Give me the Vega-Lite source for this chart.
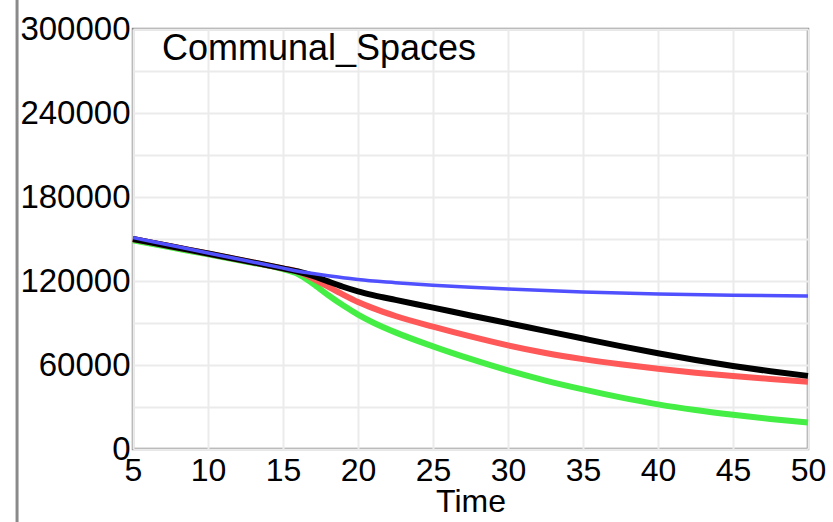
{
  "$schema": "https://vega.github.io/schema/vega-lite/v6.json",
  "width": 675,
  "height": 420,
  "autosize": {"type": "none"},
  "padding": {"left": 133, "top": 29, "right": 25, "bottom": 73},
  "background": "white",
  "config": {
    "view": {"stroke": "#8a8a8a", "strokeWidth": 2.5},
    "font": "Liberation Sans"
  },
  "datasets": {
    "runs": [
      {"series": "green", "t": 5, "v": 149000},
      {"series": "green", "t": 7.5, "v": 144000},
      {"series": "green", "t": 10, "v": 139000},
      {"series": "green", "t": 12.5, "v": 133900},
      {"series": "green", "t": 15, "v": 128500},
      {"series": "green", "t": 16, "v": 125000},
      {"series": "green", "t": 17, "v": 118000},
      {"series": "green", "t": 18, "v": 110000},
      {"series": "green", "t": 19, "v": 102600},
      {"series": "green", "t": 20, "v": 96000},
      {"series": "green", "t": 21, "v": 90400},
      {"series": "green", "t": 22.5, "v": 83300},
      {"series": "green", "t": 25, "v": 73300},
      {"series": "green", "t": 27.5, "v": 64300},
      {"series": "green", "t": 30, "v": 56100},
      {"series": "green", "t": 32.5, "v": 48900},
      {"series": "green", "t": 35, "v": 42600},
      {"series": "green", "t": 37.5, "v": 36900},
      {"series": "green", "t": 40, "v": 31900},
      {"series": "green", "t": 42.5, "v": 27800},
      {"series": "green", "t": 45, "v": 24400},
      {"series": "green", "t": 47.5, "v": 21400},
      {"series": "green", "t": 50, "v": 18900},

      {"series": "red", "t": 5, "v": 150000},
      {"series": "red", "t": 7.5, "v": 144800},
      {"series": "red", "t": 10, "v": 139600},
      {"series": "red", "t": 12.5, "v": 134400},
      {"series": "red", "t": 15, "v": 129000},
      {"series": "red", "t": 16, "v": 126700},
      {"series": "red", "t": 17, "v": 121800},
      {"series": "red", "t": 18, "v": 116000},
      {"series": "red", "t": 19, "v": 110300},
      {"series": "red", "t": 20, "v": 105000},
      {"series": "red", "t": 21, "v": 100600},
      {"series": "red", "t": 22.5, "v": 95000},
      {"series": "red", "t": 25, "v": 87400},
      {"series": "red", "t": 27.5, "v": 80400},
      {"series": "red", "t": 30, "v": 74000},
      {"series": "red", "t": 32.5, "v": 68600},
      {"series": "red", "t": 35, "v": 64200},
      {"series": "red", "t": 37.5, "v": 60500},
      {"series": "red", "t": 40, "v": 57300},
      {"series": "red", "t": 42.5, "v": 54500},
      {"series": "red", "t": 45, "v": 52100},
      {"series": "red", "t": 47.5, "v": 50000},
      {"series": "red", "t": 50, "v": 48100},

      {"series": "black", "t": 5, "v": 150000},
      {"series": "black", "t": 7.5, "v": 144800},
      {"series": "black", "t": 10, "v": 139600},
      {"series": "black", "t": 12.5, "v": 134400},
      {"series": "black", "t": 15, "v": 129000},
      {"series": "black", "t": 16, "v": 126800},
      {"series": "black", "t": 17, "v": 123700},
      {"series": "black", "t": 18, "v": 119700},
      {"series": "black", "t": 19, "v": 115900},
      {"series": "black", "t": 20, "v": 112600},
      {"series": "black", "t": 21, "v": 109900},
      {"series": "black", "t": 22.5, "v": 106500},
      {"series": "black", "t": 25, "v": 101000},
      {"series": "black", "t": 27.5, "v": 95400},
      {"series": "black", "t": 30, "v": 89900},
      {"series": "black", "t": 32.5, "v": 84400},
      {"series": "black", "t": 35, "v": 78900},
      {"series": "black", "t": 37.5, "v": 73500},
      {"series": "black", "t": 40, "v": 68400},
      {"series": "black", "t": 42.5, "v": 63600},
      {"series": "black", "t": 45, "v": 59300},
      {"series": "black", "t": 47.5, "v": 55500},
      {"series": "black", "t": 50, "v": 52200},

      {"series": "blue", "t": 5, "v": 151000},
      {"series": "blue", "t": 7.5, "v": 145500},
      {"series": "blue", "t": 10, "v": 140000},
      {"series": "blue", "t": 12.5, "v": 134600},
      {"series": "blue", "t": 15, "v": 129200},
      {"series": "blue", "t": 16, "v": 127000},
      {"series": "blue", "t": 17, "v": 125400},
      {"series": "blue", "t": 18, "v": 123800},
      {"series": "blue", "t": 19, "v": 122400},
      {"series": "blue", "t": 20, "v": 121000},
      {"series": "blue", "t": 22.5, "v": 118800},
      {"series": "blue", "t": 25, "v": 117000},
      {"series": "blue", "t": 27.5, "v": 115500},
      {"series": "blue", "t": 30, "v": 114200},
      {"series": "blue", "t": 35, "v": 112200},
      {"series": "blue", "t": 40, "v": 110700},
      {"series": "blue", "t": 45, "v": 109800},
      {"series": "blue", "t": 50, "v": 109300}
    ],
    "caption": [{"label": "Communal_Spaces"}],
    "frame": [{"k": 1}]
  },
  "layer": [
    {
      "data": {"name": "runs"},
      "transform": [{"filter": "datum.series == 'green'"}],
      "mark": {"type": "line", "color": "#44ee44", "strokeWidth": 6, "interpolate": "monotone"},
      "encoding": {
        "x": {
          "field": "t",
          "type": "quantitative",
          "scale": {"domain": [5, 50], "nice": false, "zero": false},
          "axis": {
            "title": "Time",
            "values": [5, 10, 15, 20, 25, 30, 35, 40, 45, 50],
            "grid": true,
            "gridColor": "#ebebeb",
            "gridWidth": 2,
            "ticks": false,
            "domain": false,
            "labelFontSize": 32,
            "labelColor": "#000000",
            "labelPadding": 6,
            "labelFlush": false,
            "labelOverlap": false,
            "titleFontSize": 32,
            "titleFontWeight": "normal",
            "titleColor": "#000000",
            "titlePadding": 0
          }
        },
        "y": {
          "field": "v",
          "type": "quantitative",
          "scale": {"domain": [0, 300000], "nice": false},
          "axis": {
            "title": null,
            "values": [0, 30000, 60000, 90000, 120000, 150000, 180000, 210000, 240000, 270000, 300000],
            "labelExpr": "datum.value % 60000 == 0 ? format(datum.value, 'd') : ''",
            "grid": true,
            "gridColor": "#ebebeb",
            "gridWidth": 2,
            "ticks": false,
            "domain": false,
            "labelFontSize": 33,
            "labelColor": "#000000",
            "labelPadding": 3,
            "labelFlush": false,
            "labelOverlap": false
          }
        }
      }
    },
    {
      "data": {"name": "runs"},
      "transform": [{"filter": "datum.series == 'red'"}],
      "mark": {"type": "line", "color": "#ff5858", "strokeWidth": 6, "interpolate": "monotone"},
      "encoding": {
        "x": {"field": "t", "type": "quantitative"},
        "y": {"field": "v", "type": "quantitative"}
      }
    },
    {
      "data": {"name": "runs"},
      "transform": [{"filter": "datum.series == 'black'"}],
      "mark": {"type": "line", "color": "#000000", "strokeWidth": 6, "interpolate": "monotone"},
      "encoding": {
        "x": {"field": "t", "type": "quantitative"},
        "y": {"field": "v", "type": "quantitative"}
      }
    },
    {
      "data": {"name": "runs"},
      "transform": [{"filter": "datum.series == 'blue'"}],
      "mark": {"type": "line", "color": "#5050ff", "strokeWidth": 3.5, "interpolate": "monotone"},
      "encoding": {
        "x": {"field": "t", "type": "quantitative"},
        "y": {"field": "v", "type": "quantitative"}
      }
    },
    {
      "data": {"name": "caption"},
      "mark": {"type": "text", "align": "left", "baseline": "middle", "fontSize": 36, "fill": "#000000", "font": "Liberation Sans"},
      "encoding": {
        "x": {"datum": 6.93, "type": "quantitative"},
        "y": {"datum": 286000, "type": "quantitative"},
        "text": {"field": "label", "type": "nominal"}
      }
    },
    {
      "data": {"name": "frame"},
      "mark": {"type": "rule", "stroke": "#8a8a8a", "strokeWidth": 3, "clip": false},
      "encoding": {
        "x": {"datum": -2.73, "type": "quantitative"},
        "y": {"datum": 345000, "type": "quantitative"},
        "y2": {"datum": -60000}
      }
    }
  ]
}
